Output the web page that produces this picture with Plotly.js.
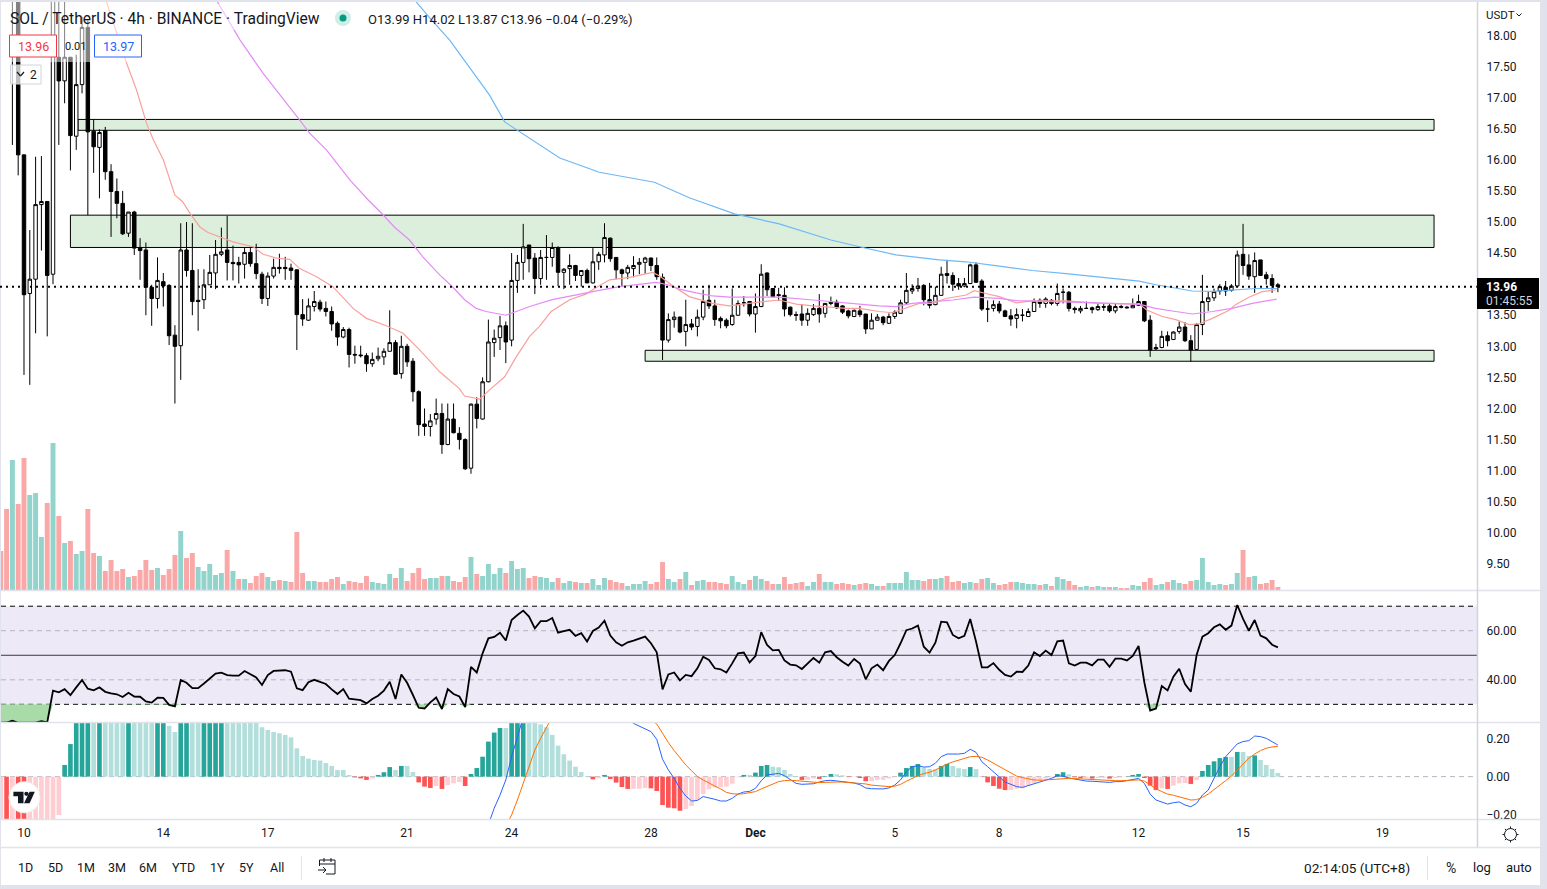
<!DOCTYPE html>
<html><head><meta charset="utf-8">
<script src="https://cdn.plot.ly/plotly-3.0.1.min.js"></script>
<style>html,body{margin:0;padding:0;background:#e0e3eb;overflow:hidden}#c{width:1547px;height:889px}</style>
</head><body><div id="c"></div>
<script>
const firstBar=-4;
const opens=[23,22,19.5,21,
16.08,13.85,14.08,15.28,15.33,14.16,17.65,17.27,17.65,16.38,
17.21,18.13,16.46,16.20,16.47,15.81,15.49,15.30,14.82,15.16,
14.59,14.55,13.95,13.77,14.04,13.98,13.18,13.01,14.55,14.22,
13.74,13.75,13.99,14.18,14.48,14.55,14.35,14.35,14.32,14.51,
14.33,14.16,13.77,14.13,14.27,14.27,14.26,14.23,13.51,13.42,
13.64,13.71,13.61,13.56,13.37,13.15,13.27,12.87,12.86,12.85,
12.72,12.80,12.83,12.92,13.06,12.56,13.0,12.76,12.27,11.75,
11.71,11.83,11.92,11.42,11.83,11.60,11.50,11.04,12.07,11.83,
12.43,13.06,13.14,13.33,13.10,14.06,14.35,14.63,14.42,14.09,
14.43,14.43,14.59,14.19,14.25,14.30,14.14,14.22,14.02,14.36,
14.47,14.74,14.43,14.23,14.18,14.25,14.32,14.35,14.42,14.30,
14.11,13.10,13.43,13.47,13.24,13.36,13.32,13.47,13.74,13.65,
13.45,13.42,13.35,13.50,13.70,13.72,13.52,13.64,14.18,13.93,
13.83,13.82,13.63,13.51,13.52,13.42,13.51,13.61,13.53,13.71,
13.71,13.65,13.57,13.48,13.57,13.52,13.28,13.42,13.47,13.37,
13.48,13.53,13.70,13.89,13.93,13.98,13.75,13.67,13.82,14.17,
14.14,14.01,13.97,14.01,14.31,14.05,13.60,13.61,13.68,13.57,
13.49,13.45,13.50,13.48,13.56,13.74,13.69,13.74,13.69,13.87,
13.87,13.61,13.57,13.61,13.62,13.59,13.64,13.65,13.57,13.64,
13.63,13.62,13.66,13.72,13.42,12.98,12.98,13.17,13.11,13.24,
13.31,13.09,12.95,13.35,13.72,13.78,13.89,13.95,13.90,13.97,
14.48,14.31,14.12,14.39,14.15,14.09,13.99];
const highs=[23.5,22.5,21.5,21,
16.08,14.87,16.05,16.06,15.33,19.8,19,19,17.65,17.69,
18.3,18.25,16.65,16.49,16.53,15.93,15.70,15.50,15.16,15.18,
14.74,14.67,13.99,14.43,14.18,14.0,13.34,14.98,15.0,14.98,
14.24,14.24,14.47,14.71,14.91,15.10,14.62,14.44,14.59,14.58,
14.65,14.2,14.19,14.41,14.49,14.44,14.33,14.24,13.76,13.77,
13.89,13.75,13.72,13.64,13.40,13.31,13.3,13.01,13.01,12.89,
12.90,12.98,12.97,13.58,13.10,13.17,13.04,12.81,12.29,12.0,
11.91,12.16,12.08,12.08,12.08,11.70,11.52,12.08,12.18,12.50,
13.43,13.27,13.49,13.4,14.5,14.47,14.97,14.63,14.50,14.55,
14.79,14.67,14.61,14.26,14.48,14.31,14.22,14.25,14.58,14.52,
14.98,14.75,14.43,14.25,14.31,14.45,14.42,14.44,14.43,14.43,
14.17,13.53,13.56,13.48,13.75,13.44,13.59,13.91,13.99,13.75,
13.48,13.45,13.93,13.74,13.81,13.72,13.85,14.32,14.19,13.93,
13.94,13.95,13.64,13.56,13.68,13.61,13.68,13.84,13.69,13.80,
13.75,13.66,13.59,13.59,13.65,13.52,13.53,13.52,13.49,13.53,
13.58,13.75,14.18,14.0,14.10,14.0,14.02,13.96,14.28,14.39,
14.19,14.10,14.10,14.33,14.35,14.08,13.74,13.74,13.73,13.59,
13.6,13.61,13.6,13.61,13.77,13.77,13.79,13.76,14.01,13.93,
13.89,13.64,13.65,13.72,13.64,13.68,13.69,13.69,13.69,13.67,
13.65,13.77,13.83,13.73,13.50,13.04,13.25,13.24,13.24,13.40,
13.39,13.18,13.37,14.15,13.88,13.93,14.0,14.05,14.0,14.54,
14.97,14.48,14.51,14.39,14.2,14.16,14.02];
const lows=[21,20,16.24,15.75,
12.54,12.38,13.21,14.54,13.16,14.0,16.24,16.91,15.83,16.16,
17.07,15.11,15.79,15.38,15.68,14.76,15.06,14.79,14.76,14.47,
14.07,13.50,13.33,13.61,13.64,13.02,12.08,12.46,14.12,13.50,
13.25,13.60,13.99,13.92,14.45,14.06,14.06,14.01,14.09,14.28,
14.08,13.68,13.65,14.09,14.17,14.07,14.07,12.94,13.33,13.41,
13.56,13.56,13.48,13.25,13.01,13.13,12.66,12.72,12.82,12.59,
12.67,12.76,12.70,12.92,12.54,12.48,12.67,12.11,11.56,11.56,
11.55,11.74,11.27,11.41,11.6,11.34,11.01,10.95,11.68,11.82,
12.42,12.83,12.94,12.73,13.0,13.86,14.07,14.19,13.84,13.99,
14.07,14.28,13.97,13.92,13.99,14.05,13.96,14.02,14.01,14.23,
14.35,14.36,14.08,13.97,14.08,14.11,14.16,14.17,14.21,14.07,
12.78,13.06,13.3,13.21,13.0,13.26,13.16,13.42,13.60,13.33,
13.29,13.29,13.33,13.49,13.64,13.48,13.22,13.63,13.81,13.79,
13.73,13.48,13.48,13.41,13.33,13.33,13.49,13.38,13.46,13.66,
13.6,13.52,13.45,13.47,13.47,13.2,13.28,13.41,13.34,13.36,
13.44,13.52,13.68,13.84,13.88,13.66,13.61,13.66,13.81,14.01,
13.89,13.91,13.95,14.0,14.02,13.57,13.39,13.56,13.53,13.47,
13.33,13.29,13.4,13.47,13.56,13.62,13.62,13.66,13.65,13.69,
13.56,13.53,13.53,13.60,13.53,13.57,13.57,13.54,13.53,13.61,
13.61,13.62,13.65,13.39,12.83,12.94,12.97,13.0,13.10,13.2,
13.07,12.75,12.94,13.18,13.57,13.73,13.83,13.81,13.88,13.95,
14.15,14.07,13.86,14.14,13.99,13.86,13.87];
const closes=[22,21,21,16.08,
13.83,14.08,15.28,15.33,14.14,19.5,17.27,17.65,16.39,17.21,
18.13,16.45,16.21,16.44,15.81,15.49,15.30,14.81,15.16,14.58,
14.54,13.95,13.77,14.06,13.97,13.17,13.0,14.55,14.22,13.72,
13.72,13.99,14.19,14.48,14.52,14.35,14.33,14.31,14.51,14.33,
14.17,13.77,14.13,14.27,14.25,14.25,14.22,13.51,13.44,13.65,
13.72,13.60,13.56,13.36,13.15,13.27,12.87,12.86,12.85,12.72,
12.79,12.84,12.92,13.06,12.55,13.0,12.75,12.27,11.74,11.71,
11.80,11.92,11.42,11.83,11.61,11.50,11.03,12.07,11.84,12.43,
13.07,13.13,13.33,13.07,14.06,14.35,14.60,14.41,14.09,14.43,
14.43,14.59,14.19,14.24,14.30,14.14,14.22,14.02,14.36,14.48,
14.75,14.41,14.23,14.17,14.27,14.30,14.35,14.42,14.30,14.12,
13.10,13.43,13.47,13.23,13.35,13.31,13.47,13.72,13.65,13.43,
13.41,13.33,13.50,13.69,13.70,13.52,13.64,14.16,13.91,13.80,
13.82,13.60,13.51,13.50,13.42,13.53,13.61,13.52,13.69,13.69,
13.62,13.55,13.49,13.58,13.51,13.28,13.42,13.47,13.38,13.48,
13.55,13.70,13.90,13.93,13.97,13.75,13.66,13.82,14.16,14.14,
14.0,13.97,14.01,14.31,14.03,13.60,13.60,13.67,13.57,13.48,
13.44,13.51,13.50,13.56,13.72,13.69,13.76,13.69,13.85,13.87,
13.61,13.59,13.61,13.61,13.59,13.64,13.63,13.57,13.64,13.63,
13.62,13.66,13.72,13.41,12.94,12.96,13.16,13.09,13.23,13.31,
13.09,12.94,13.35,13.72,13.78,13.88,13.96,13.89,13.97,14.47,
14.30,14.13,14.38,14.14,14.09,13.98,13.96];
const volumes=[39,81,130,86,
132,95,97,53,87,147,74,47,49,36,
39,81,37,34,19,30,19,21,13,14,
20,30,20,22,15,21,35,59,32,37,
23,19,26,15,17,40,19,11,11,7,
14,17,13,9,10,9,8,58,17,9,
9,8,8,11,13,6,9,8,7,14,
8,7,6,16,12,22,9,17,22,11,
12,12,14,14,9,8,13,33,16,14,
26,16,22,17,29,21,22,12,14,13,
12,8,12,7,9,8,7,7,11,5,
12,10,8,7,4,6,6,9,6,8,
28,11,8,11,18,5,9,10,8,8,
7,6,14,8,6,10,14,11,9,6,
6,13,6,7,8,4,8,16,8,8,
6,7,6,5,6,7,6,4,4,7,
7,7,18,10,10,9,11,11,12,14,
8,9,7,8,7,11,12,7,5,6,
8,8,7,6,6,5,6,4,13,11,
9,5,3,4,3,4,3,3,3,2,
2,5,4,8,12,5,6,8,10,7,
6,9,10,32,8,5,6,5,6,17,
40,13,14,6,7,10,3];
const volumeDirList=(
"d d u d "+
"d u u u d u d u d u "+
"u d d u d d d d u d "+
"d d d u d d d u d d "+
"u u u u u d u d u d "+
"d d u u d u d d d u "+
"u d d d d u d d d d "+
"u u u u d u d d d d "+
"u u d u d d d u d u "+
"u u u d u u u d d u "+
"u u d u u d u d u u "+
"u d d d u u u u d d "+
"d u u d u d u u d d "+
"d d u u u d u u d d "+
"u d d d d u u d u u "+
"d d d u d d u u d u "+
"u u u u u d d u u d "+
"d d u u d d u u d d "+
"d u u u u d u d u u "+
"d d u u d u u d u d "+
"d u u d d u u d u u "+
"d d u u u u u d u u "+
"d d u d d d d").trim().split(" ");
const rsiValues=[22.5,22.6,23.3,22.5,
22.5,22.5,22.5,23.1,22.6,35.6,34.9,36.2,33.8,36.9,
39.9,36.4,35.7,36.9,35.1,34.5,34.1,33,34.7,33.2,
33.1,31.2,30.7,32.7,32.6,29.8,29.2,39.9,38.8,36.6,
36.6,38.5,40.6,42.5,42.9,41.9,41.7,41.7,43.6,42.2,
41,37.9,41.9,43.6,43.6,43.9,43.3,36.5,35.8,39,
40,39,38.3,36.1,34.2,36.2,32.3,32,31.7,30.4,
32.2,33.5,35.6,39.2,32.2,42.2,38.8,33.8,28.6,28.3,
30.8,32.8,28.1,36.2,34.2,33.2,28.9,45.3,43,50.8,
56.9,57.5,59.2,56,64.4,66.4,68.2,65.8,61,63.9,
63.9,65.2,59.2,59.8,60.4,57.9,59,55.6,59.9,61.3,
64.1,58,55.3,53.9,55.3,56,56.9,57.6,54.9,51.2,
36.1,42.2,43,39.8,42,41.5,44.7,49.4,48.1,44.7,
44.3,43,46.7,50.8,51.1,47.1,49.7,59.4,54.2,52,
52.2,47.9,46.2,45.9,44.4,46.7,48.9,47,51.2,51.7,
49.2,47.4,45.8,48.5,46.6,40.2,44.7,46.2,43.9,47.7,
50.1,54.9,60.2,60.9,62.1,53.5,51.1,55.1,63.7,63.4,
58.3,56.9,57.9,64.8,55.6,45.1,45.1,46.8,44.1,42,
41.3,43.3,43.2,45.8,51.2,49.7,51.9,50.1,55.7,56,
46.7,45.8,47,47,45.9,48.2,48.2,45.3,48.6,48.6,
47.9,49.7,53.8,38.9,27.5,28.3,37.5,35.7,41.3,44.5,
38.3,35.1,50.1,57.6,59,61.4,62.6,60.4,62.1,70.5,
64.8,60,64.4,58,56.9,54.3,53.2];
const macdHist=[-.5,-.55,-.52,-.6,
-.65,-.6,-.55,-.45,-.38,-.28,-.2,.061,.17,.3,
.36,.4,.38,.42,.4,.39,.38,.37,.4,.39,
.38,.36,.34,.36,.38,.265,.233,.29,.33,.32,
.3,.31,.33,.35,.37,.36,.34,.33,.32,.3,
.28,.258,.244,.233,.226,.218,.205,.148,.108,.094,
.087,.084,.071,.056,.035,.035,.009,-.004,-.009,-.017,
-.01,.009,.023,.05,.035,.056,.056,.024,-.03,-.052,
-.059,-.049,-.064,-.044,-.035,-.028,-.049,.014,.045,.104,
.183,.23,.254,.254,.3,.34,.38,.36,.33,.273,
.258,.218,.162,.117,.084,.052,.024,.003,-.014,-.009,
.009,-.012,-.031,-.054,-.064,-.064,-.063,-.059,-.061,-.075,
-.148,-.162,-.165,-.178,-.169,-.153,-.122,-.091,-.066,-.056,
-.054,-.052,-.037,-.003,.009,.009,.021,.056,.061,.052,
.049,.035,.014,.003,-.017,-.017,-.01,-.012,.003,.014,
.012,.007,-.002,-.002,-.007,-.024,-.024,-.017,-.017,-.01,
-.002,.021,.045,.056,.066,.047,.04,.038,.056,.066,
.056,.044,.04,.05,.04,-.002,-.03,-.049,-.063,-.07,
-.07,-.063,-.061,-.047,-.035,-.021,-.01,-.005,.014,.023,
.012,-.003,-.007,-.007,-.01,-.007,-.007,-.01,-.007,-.003,
.001,.009,.014,-.007,-.047,-.07,-.061,-.064,-.047,-.035,
-.033,-.038,-.017,.03,.061,.08,.097,.103,.103,.129,
.129,.108,.111,.087,.061,.04,.019];
const macdLineStart=80;
const macdLine=[-.25,-.165,-.096,-.017,.104,.226,.34,.45,.55,.62,.66,.67,.66,.64,.62,.6,.58,.56,.55,.52,.45,.42,.38,.34,.3,.278,.265,.25,
.235,.195,.091,.035,-.009,-.061,-.101,-.127,-.124,-.104,-.11,-.118,-.127,-.127,-.113,-.091,-.08,-.077,-.061,-.021,.009,.014,.017,.005,-.014,-.035,-.04,-.04,-.037,-.028,-.021,-.019,-.023,-.026,-.03,-.033,-.042,-.059,-.063,-.064,-.064,-.059,-.044,-.017,.026,.052,.057,.05,.052,.07,.104,.118,.118,.118,.122,.143,.127,.078,.052,.026,-.003,-.028,-.04,-.052,-.056,-.047,-.035,-.026,-.021,-.009,.005,.002,-.007,-.012,-.016,-.023,-.024,-.026,-.028,-.03,-.026,-.026,-.021,-.014,-.009,-.035,-.091,-.122,-.134,-.143,-.136,-.132,-.148,-.157,-.139,-.096,-.07,-.009,.052,.104,.139,.171,.183,.188,.212,.209,.2,.183,.165];
const signalStart=83;
const signalLine=[-.26,-.2,-.122,-.035,.061,.139,.2,.265,.32,.37,.41,.44,.46,.47,.47,.47,.46,.45,.44,.42,.4,.38,.36,.34,.32,.295,
.275,.226,.178,.136,.096,.061,.031,0,-.017,-.035,-.049,-.064,-.082,-.089,-.091,-.089,-.085,-.078,-.064,-.05,-.037,-.026,-.021,-.019,-.021,-.024,-.028,-.031,-.031,-.03,-.028,-.028,-.028,-.03,-.031,-.033,-.038,-.044,-.047,-.05,-.052,-.05,-.04,-.024,-.009,.005,.016,.023,.035,.052,.066,.077,.087,.096,.104,.106,.101,.087,.07,.052,.035,.017,.003,-.005,-.012,-.017,-.019,-.017,-.014,-.01,-.009,-.009,-.01,-.012,-.014,-.016,-.017,-.019,-.021,-.021,-.021,-.019,-.017,-.017,-.023,-.044,-.063,-.078,-.091,-.097,-.106,-.115,-.122,-.12,-.108,-.091,-.066,-.044,-.021,.003,.035,.066,.096,.118,.136,.148,.155,.158];
const fastMaX=[14.2,15.7,17.7,19.4,21.1,22.3,24,26,27.3,28.6,30.3,31.7,33.7,36,39.5,41.2,43.5,45.8,47.5,50.4,53.2,56.7,59,62.4,65.3,68.2,71.6,75,75.9,78.5,80.2,82.8,84.8,87.1,88.8,90.8,94,96.8,98.8,100.9,104.3,108.3,109.5,111.8,114.6,118.6,121.5,124.4,127.3,130.1,133,135.9,141.6,143.9,147.3,149.6,151.9,154.2,156.5,158.8,162.3,163.7,165.7,168,170.9,173.7,179.5,185.2,192.1,193.5,196.1,198.4,200.7,202.4,204.7,207.6,208.7,211,213.3,215.8];
const fastMaY=[18.545,18.115,17.55,17.12,16.59,16.32,16,15.43,15.33,15.14,14.92,14.83,14.76,14.68,14.6,14.48,14.42,14.4,14.25,14.12,13.96,13.61,13.45,13.33,13.21,12.94,12.59,12.32,12.2,12.15,12.3,12.51,12.83,13.16,13.32,13.56,13.75,13.84,13.96,14.07,14.11,14.19,14.13,13.97,13.8,13.69,13.65,13.69,13.72,13.745,13.68,13.65,13.61,13.61,13.56,13.54,13.61,13.69,13.69,13.77,13.825,13.895,13.85,13.8,13.7,13.73,13.73,13.69,13.68,13.58,13.48,13.43,13.35,13.36,13.45,13.58,13.67,13.79,13.88,13.91];
const midMaX=[33.3,37.2,41.2,43.5,47.5,49.2,52.1,56.1,59.3,61.6,63.8,66.4,68.7,71.6,73.9,75.9,77.9,79.6,83,84.8,87.1,91,94.5,99.1,102.6,106,108.9,110.9,112.9,115.8,118.6,121.5,127.3,130.1,135.9,141.6,147.3,150.2,153,156.5,160,163.7,168,170.9,179.5,185.2,192.3,194.9,198.4,201.3,204.7,208.1,211.6,215.8];
const midMaY=[18.545,17.93,17.39,17.12,16.64,16.43,16.16,15.68,15.354,15.14,14.92,14.71,14.44,14.15,13.95,13.75,13.61,13.56,13.5,13.56,13.64,13.75,13.82,13.9,13.96,14,14.03,13.99,13.92,13.86,13.81,13.79,13.79,13.79,13.745,13.7,13.65,13.64,13.69,13.72,13.745,13.79,13.77,13.735,13.72,13.7,13.675,13.61,13.56,13.52,13.56,13.61,13.69,13.76];
const slowMaX=[67.3,70.2,73.3,76.8,80.2,82.8,87.1,92.3,99.1,108.6,114.6,122.4,130.1,139,144.5,150.2,157.7,162.3,168,173.7,179.5,185.2,192.1,195,198.4,201.3,204.7,209.3,212.2,215.8];
const slowMaY=[18.57,18.25,17.93,17.48,17.04,16.61,16.35,16.03,15.8,15.64,15.39,15.13,14.97,14.71,14.59,14.47,14.39,14.36,14.29,14.22,14.17,14.12,14.05,13.99,13.93,13.89,13.885,13.91,13.93,13.93];
const zoneLeft=[9.3,8,107],zoneRight=[242.9,242.9,242.9],zoneTop=[16.65,15.11,12.936],zoneBottom=[16.475,14.59,12.76];
const lastPrice=13.96;
const timeTickVals=[0,24,42,66,84,108,126,150,168,192,210,234];
const timeTickText=["10","14","17","21","24","28","<b>Dec</b>","5","8","12","15","19"];
const priceTickVals=[18,17.5,17,16.5,16,15.5,15,14.5,13.5,13,12.5,12,11.5,11,10.5,10,9.5];
const rsiTickVals=[60,40];
const macdTickVals=[0.2,0,-0.2],macdTickText=["0.20","0.00","−0.20"];
const rangeButtons=[["1D",25],["5D",55],["1M",86],["3M",117],["6M",148],["YTD",183],["1Y",217],["5Y",247],["All",277]];

const W=1547,H=889,fx=x=>x/W,fy=y=>1-y/H;
const bars=opens.map((_,k)=>firstBar+k);
const FONT="Roboto, sans-serif",INK="#131722",SEP="#e0e3eb";
const yDom=(a,b)=>[fy(b),fy(a)];

const anns=[];
function T(x,y,text,o={}){anns.push({xref:"paper",yref:"paper",x:fx(x),y:fy(y),text,showarrow:false,xanchor:o.a||"left",yanchor:"middle",font:{family:FONT,size:o.s||12,color:o.c||INK},borderpad:0,borderwidth:0});}
const shapes=[];
function R(x0,y0,x1,y1,o={}){shapes.push({type:o.t||"rect",xref:"paper",yref:"paper",x0:fx(x0),x1:fx(x1),y0:fy(y0),y1:fy(y1),fillcolor:o.f||"rgba(0,0,0,0)",opacity:o.op==null?1:o.op,line:{color:o.l||"rgba(0,0,0,0)",width:o.w==null?1:o.w,dash:o.d||"solid"},layer:o.layer||"above"});}
function L(x0,y0,x1,y1,c,w,layer){shapes.push({type:"line",xref:"paper",yref:"paper",x0:fx(x0),x1:fx(x1),y0:fy(y0),y1:fy(y1),line:{color:c,width:w||1},layer:layer||"above"});}
function P(pts,fill){shapes.push({type:"path",xref:"paper",yref:"paper",path:"M"+pts.map(p=>fx(p[0])+","+fy(p[1])).join("L")+"Z",fillcolor:fill,line:{width:0},layer:"above"});}

R(1,2,1540,885,{f:"#ffffff",layer:"below"});
zoneLeft.forEach((_,k)=>shapes.push({type:"rect",xref:"x",yref:"y",x0:zoneLeft[k],x1:zoneRight[k],y0:zoneBottom[k],y1:zoneTop[k],fillcolor:"#dcefdd",line:{color:"#000",width:1},layer:"below"}));
shapes.push({type:"rect",xref:"paper",yref:"y2",x0:fx(1),x1:fx(1477),y0:30,y1:70,fillcolor:"#ede9f7",line:{width:0},layer:"below"});
[[70,"#000",1],[30,"#000",1],[60,"#b2b5be",1],[40,"#b2b5be",1]].forEach(a=>shapes.push({type:"line",xref:"paper",yref:"y2",x0:fx(1),x1:fx(1477),y0:a[0],y1:a[0],line:{color:a[1],width:a[2],dash:"5px,4px"},layer:"below"}));
shapes.push({type:"line",xref:"paper",yref:"y2",x0:fx(1),x1:fx(1477),y0:50,y1:50,line:{color:"#363a45",width:1},layer:"below"});
shapes.push({type:"line",xref:"paper",yref:"y3",x0:fx(1),x1:fx(1477),y0:0,y1:0,line:{color:"#b2b5be",width:1,dash:"5px,4px"},layer:"below"});
shapes.push({type:"line",xref:"paper",yref:"y",x0:fx(0),x1:fx(1477),y0:lastPrice,y1:lastPrice,line:{color:"#000",width:2,dash:"2px,4px"},layer:"above"});

[590.5,722.5,819.5,847.5].forEach(y=>L(1,y,1540,y,SEP,1.5));
L(1477.5,2,1477.5,847,"#d1d4dc",1.5);

// header overlay and buttons
R(1,2,146,62,{f:"#ffffff",op:0.5});
R(146,4,335,30,{f:"#ffffff",op:0.5});
T(10,18.5,"SOL / TetherUS · 4h · BINANCE · TradingView",{s:15.6});
R(335,10,351,26,{t:"circle",f:"#cfeee7"});
R(339.5,14.5,346.5,21.5,{t:"circle",f:"#089981"});
T(368,19,"O13.99 H14.02 L13.87 C13.96 −0.04 (−0.29%)",{s:13});
R(9.5,35,56.5,57,{f:"#fff",l:"#f23645"});
T(33,46.5,"13.96",{a:"center",s:12.5,c:"#f23645"});
T(65,46.5,"0.01",{s:11,c:"#131722"});
R(94.5,35,141.5,57,{f:"#fff",l:"#2962ff"});
T(118,46.5,"13.97",{a:"center",s:12.5,c:"#2962ff"});
R(10.5,65,41,84,{f:"rgba(255,255,255,.75)",l:"#d1d4dc"});
T(33,75,"2",{a:"center",s:12});
L(17,72,20.5,76,INK,1.2);L(20.5,76,24,72,INK,1.2);

// right column
T(1486,15,"USDT",{s:11.5});
L(1516.5,13.5,1519,16,INK,1);L(1519,16,1521.5,13.5,INK,1);
R(1477,278,1539,309,{f:"#000"});
T(1486,287,"<b>13.96</b>",{s:12,c:"#fff"});
T(1485.5,300.5,"01:45:55",{s:12,c:"#d1d4dc"});

// TV logo
R(8.9,781.7,40.1,812.9,{t:"circle",f:"#fff",l:"#eeeeee"});
P([[13.4,791.7],[23.5,791.7],[23.5,803.3],[18,803.3],[18,796.2],[13.4,796.2]],INK);
R(24.3,791.7,28.6,796,{t:"circle",f:INK});
P([[29.6,791.7],[34.8,791.7],[29.6,803.3],[24,803.3]],INK);

// settings icon
R(1504.5,828.5,1516.5,840.5,{t:"circle",l:INK,w:1});
[[0,-1],[0,1],[-1,0],[1,0],[.7,.7],[-.7,.7],[.7,-.7],[-.7,-.7]].forEach(d=>L(1510.5+d[0]*6,834.5+d[1]*6,1510.5+d[0]*8,834.5+d[1]*8,INK,1));

// bottom bar
rangeButtons.forEach(b=>T(b[1],867.5,b[0],{a:"center",s:12.5}));
L(301.5,856,301.5,880,SEP,1);
L(319.5,860,335,860,INK,1);L(319.5,864,335,864,INK,1);L(319.5,860,319.5,866,INK,1);L(335,860,335,874,INK,1);L(326,874,335,874,INK,1);
L(324,858,324,862,INK,1);L(331,858,331,862,INK,1);
L(318,870,326,870,INK,1);L(323,867,326,870,INK,1);L(323,873,326,870,INK,1);
T(1357,867.5,"02:14:05 (UTC+8)",{a:"center",s:13.6});
L(1427.5,856,1427.5,880,SEP,1);
T(1451,867.5,"%",{a:"center",s:14});
T(1482,867.5,"log",{a:"center",s:13});
T(1519,867.5,"auto",{a:"center",s:13});

const histColors=macdHist.map((v,k)=>{const p=k?macdHist[k-1]:v;return v>=0?(v>p?"#26a69a":"#b2dfdb"):(v<p?"#ff5252":"#ffcdd2");});
const volColors=volumeDirList.map(d=>d=="u"?"#92d3cc":"#faa7a7");
const rsiLow=rsiValues.map(v=>Math.min(v,30)),rsiHigh=rsiValues.map(v=>Math.max(v,70));
const maTrace=(x,y,c)=>({type:"scatter",mode:"lines",x,y,xaxis:"x",yaxis:"y",line:{color:c,width:1.2},hoverinfo:"skip"});
const offs=(s,arr)=>arr.map((_,k)=>s+k);

const traces=[
{type:"bar",x:bars,y:volumes,xaxis:"x",yaxis:"y4",width:.85,marker:{color:volColors,line:{width:0}},hoverinfo:"skip"},
{type:"candlestick",x:bars,open:opens,high:highs,low:lows,close:closes,xaxis:"x",yaxis:"y",
 increasing:{line:{color:"#000",width:1},fillcolor:"#fff"},decreasing:{line:{color:"#000",width:1},fillcolor:"#000"},whiskerwidth:0,hoverinfo:"skip"},
maTrace(fastMaX,fastMaY,"#f9a09c"),
maTrace(midMaX,midMaY,"#e58af7"),
maTrace(slowMaX,slowMaY,"#6fb8f5"),
{type:"scatter",mode:"lines",x:bars,y:bars.map(()=>30),xaxis:"x",yaxis:"y2",line:{width:0,color:"rgba(0,0,0,0)"},hoverinfo:"skip"},
{type:"scatter",mode:"lines",x:bars,y:rsiLow,xaxis:"x",yaxis:"y2",line:{width:0,color:"rgba(0,0,0,0)"},fill:"tonexty",fillcolor:"#a8dba8",hoverinfo:"skip"},
{type:"scatter",mode:"lines",x:bars,y:bars.map(()=>70),xaxis:"x",yaxis:"y2",line:{width:0,color:"rgba(0,0,0,0)"},hoverinfo:"skip"},
{type:"scatter",mode:"lines",x:bars,y:rsiHigh,xaxis:"x",yaxis:"y2",line:{width:0,color:"rgba(0,0,0,0)"},fill:"tonexty",fillcolor:"#f7a8a8",hoverinfo:"skip"},
{type:"scatter",mode:"lines",x:bars,y:rsiValues,xaxis:"x",yaxis:"y2",line:{color:"#000",width:1.8},hoverinfo:"skip"},
{type:"bar",x:bars,y:macdHist,xaxis:"x",yaxis:"y3",width:.8,marker:{color:histColors,line:{width:0}},hoverinfo:"skip"},
{type:"scatter",mode:"lines",x:offs(macdLineStart,macdLine),y:macdLine,xaxis:"x",yaxis:"y3",line:{color:"#2962ff",width:1},hoverinfo:"skip"},
{type:"scatter",mode:"lines",x:offs(signalStart,signalLine),y:signalLine,xaxis:"x",yaxis:"y3",line:{color:"#ff6d00",width:1},hoverinfo:"skip"}
];
const tickFont={family:FONT,size:12,color:INK};
const yBase={side:"right",anchor:"x",showgrid:false,zeroline:false,showline:false,ticks:"outside",ticklen:6,tickcolor:"rgba(0,0,0,0)",tickfont:tickFont,fixedrange:true,tickmode:"array"};
const fmt2=v=>v.toFixed(2);
const layout={width:W,height:H,margin:{l:0,r:0,t:0,b:0},paper_bgcolor:"rgba(0,0,0,0)",plot_bgcolor:"rgba(0,0,0,0)",showlegend:false,hovermode:false,
 barmode:"overlay",boxgap:.15,
 xaxis:{domain:[fx(1),fx(1477)],range:[-3.96,250.3],type:"linear",anchor:"y3",showgrid:false,zeroline:false,showline:false,ticks:"outside",ticklen:3,tickcolor:"rgba(0,0,0,0)",tickmode:"array",tickvals:timeTickVals,ticktext:timeTickText,tickfont:tickFont,fixedrange:true,rangeslider:{visible:false}},
 yaxis:{...yBase,domain:yDom(2,590),range:[9.08,18.539],tickvals:priceTickVals,ticktext:priceTickVals.map(fmt2)},
 yaxis2:{...yBase,domain:yDom(591,722),range:[22.8,76.2],tickvals:rsiTickVals,ticktext:rsiTickVals.map(fmt2)},
 yaxis3:{...yBase,domain:yDom(723,819),range:[-0.221,0.28],tickvals:macdTickVals,ticktext:macdTickText},
 yaxis4:{domain:yDom(2,590),range:[0,588],overlaying:"y",side:"left",anchor:"x",visible:false,fixedrange:true},
 shapes,annotations:anns};
Plotly.newPlot("c",traces,layout,{displayModeBar:false,staticPlot:true});
</script></body></html>
